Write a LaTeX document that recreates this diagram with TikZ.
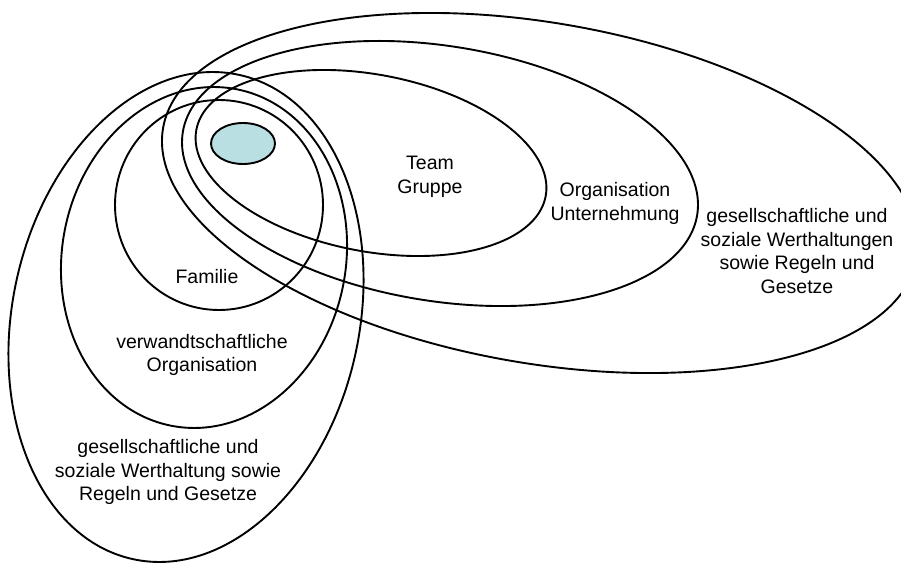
\documentclass[tikz,border=0pt]{standalone}
\usepackage{fontspec}
\setmainfont{Liberation Sans}
\usetikzlibrary{shapes.geometric}
\definecolor{coreblue}{RGB}{186,223,227}
\tikzset{
  ring/.style={draw=black, line width=1.9pt, ellipse, inner sep=0pt, outer sep=0pt},
  label/.style={align=center, inner sep=0pt, font=\fontsize{19.5}{23.5}\selectfont},
}
\begin{document}
\begin{tikzpicture}[x=1pt, y=1pt]
\useasboundingbox (0,0) rectangle (901,563);
\fill[white] (0,0) rectangle (901,563);

% family-side circles
\node[ring, minimum width=208pt, minimum height=210pt] (fam) at (219,358) {};
\node[ring, minimum width=283.8pt, minimum height=342.8pt, rotate=-10.8] (verw) at (204,305.5) {};
\node[ring, minimum width=346.8pt, minimum height=495.8pt, rotate=-12.4] (gesL) at (186,246) {};

% work-side circles
\node[ring, minimum width=355.6pt, minimum height=176.8pt, rotate=-10.8] (team) at (371,400) {};
\node[ring, minimum width=521pt, minimum height=255pt, rotate=-9.15] (org) at (440,389.5) {};
\node[ring, minimum width=765pt, minimum height=340.6pt, rotate=-9.8] (gesR) at (540,370) {};

% the individual at the centre
\node[ring, fill=coreblue, minimum width=64pt, minimum height=41pt] (core) at (243,419.5) {};

% labels
\node[label] (tTeam) at (430,386) {Team\\Gruppe};
\node[label] (tOrg) at (615,359.5) {Organisation\\Unternehmung};
\node[label] (tGesR) at (797,312) {gesellschaftliche und\\soziale Werthaltungen\\sowie Regeln und\\Gesetze};
\node[label] (tFam) at (207,286) {Familie};
\node[label] (tVerw) at (202,208) {verwandtschaftliche\\Organisation};
\node[label] (tGesL) at (168,91) {gesellschaftliche und\\soziale Werthaltung sowie\\Regeln und Gesetze};
\end{tikzpicture}
\end{document}
